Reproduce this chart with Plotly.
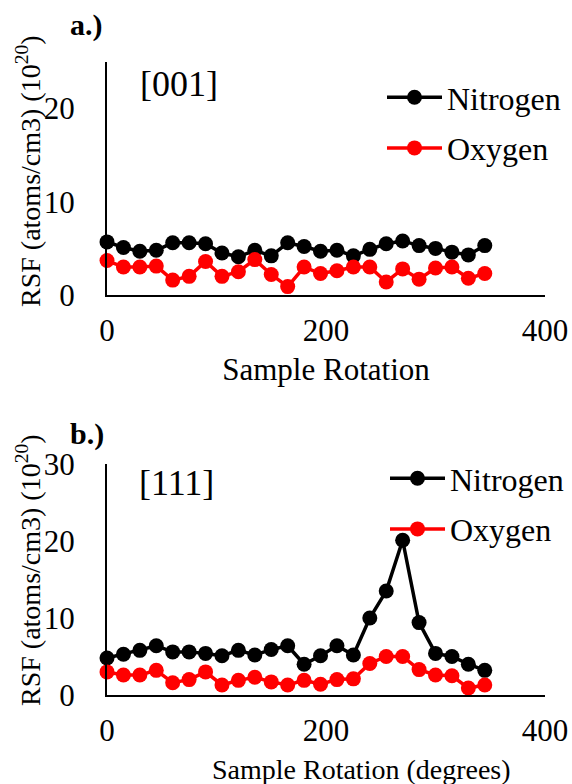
import plotly.graph_objects as go
from plotly.subplots import make_subplots

rotation = [0, 15, 30, 45, 60, 75, 90, 105, 120, 135, 150, 165, 180, 195, 210, 225,
            240, 255, 270, 285, 300, 315, 330, 345]

n_001 = [5.7, 5.1, 4.7, 4.8, 5.6, 5.6, 5.5, 4.5, 4.1, 4.8, 4.2, 5.6, 5.2, 4.7, 4.8, 4.2,
         4.9, 5.5, 5.8, 5.3, 5.0, 4.6, 4.3, 5.3]
o_001 = [3.7, 3.0, 3.0, 3.1, 1.6, 2.0, 3.6, 2.0, 2.5, 3.8, 2.2, 0.9, 3.0, 2.3, 2.6, 3.0,
         3.0, 1.4, 2.8, 1.7, 2.9, 3.0, 1.8, 2.3]

n_111 = [4.8, 5.3, 5.8, 6.4, 5.6, 5.6, 5.4, 5.1, 5.8, 5.2, 5.9, 6.4, 4.0, 5.1, 6.4, 5.2,
         10.0, 13.5, 20.1, 9.4, 5.4, 5.0, 4.0, 3.2]
o_111 = [3.0, 2.6, 2.6, 3.2, 1.6, 2.0, 3.0, 1.3, 1.9, 2.3, 1.7, 1.3, 1.9, 1.4, 2.0, 2.1,
         4.1, 5.0, 5.0, 3.3, 2.6, 2.5, 0.9, 1.3]

FONT = "Liberation Serif"

fig = make_subplots(rows=2, cols=1, vertical_spacing=0.0)

def add(x, y, name, color, row, legend, show=True):
    fig.add_trace(go.Scatter(
        x=x, y=y, name=name, mode="lines+markers",
        line=dict(color=color, width=3.5),
        marker=dict(color=color, size=15),
        cliponaxis=False, legend=legend, legendgroup=name + legend,
        showlegend=show), row=row, col=1)

add(rotation, n_001, "Nitrogen", "#000000", 1, "legend")
add(rotation, o_001, "Oxygen", "#ff0000", 1, "legend")
add(rotation, n_111, "Nitrogen", "#000000", 2, "legend2")
add(rotation, o_111, "Oxygen", "#ff0000", 2, "legend2")

H_TOP = 62
H_BOT = 89
ph = 784 - H_TOP - H_BOT

def py(pix):
    return (784 - H_BOT - pix) / ph

def px(pix):
    return (pix - 107) / 438

axis_common = dict(showgrid=False, zeroline=False, showline=True, linecolor="#000000",
                   linewidth=2, ticks="", automargin=False,
                   tickfont=dict(family=FONT, size=31, color="#000"))

fig.update_xaxes(range=[0, 400], dtick=200, ticklabelstandoff=7,
                 title_font=dict(family=FONT, size=31, color="#000"), **axis_common)
fig.update_yaxes(**axis_common)

fig.update_xaxes(title_text="Sample Rotation", title_standoff=11, row=1, col=1)
fig.update_yaxes(range=[0, 25], dtick=10, ticklabelstandoff=24, row=1, col=1)
fig.update_yaxes(range=[0, 30], dtick=10, ticklabelstandoff=24, row=2, col=1)

fig.update_layout(
    yaxis=dict(domain=[py(295), 1.0]),
    yaxis2=dict(domain=[0.0, py(464)]),
)

legend_common = dict(font=dict(family=FONT, size=32, color="#000"), bgcolor="rgba(0,0,0,0)",
                     itemwidth=55, tracegroupgap=6, xanchor="left", yanchor="top",
                     xref="paper", yref="paper")

def ann(text, x, y, size, bold=False, angle=0):
    return dict(text=f"<b>{text}</b>" if bold else text, x=px(x), y=py(y),
                xref="paper", yref="paper", xanchor="center", yanchor="middle",
                textangle=angle,
                showarrow=False, font=dict(family=FONT, size=size, color="#000"))

ytitle = "RSF (atoms/cm3) (10<sup>20</sup>)"

fig.update_layout(
    width=572, height=784,
    margin=dict(l=107, r=27, t=H_TOP, b=H_BOT, autoexpand=False),
    paper_bgcolor="#ffffff", plot_bgcolor="#ffffff",
    font=dict(family=FONT, size=27, color="#000"),
    legend=dict(x=px(382), y=py(70), **legend_common),
    legend2=dict(x=px(385), y=py(451), **legend_common),
    annotations=[
        ann("a.)", 86, 25, 30, bold=True),
        ann("b.)", 87, 434, 30, bold=True),
        ann("[001]", 179, 84, 36),
        ann("[111]", 176, 483, 36),
        ann("Sample Rotation (degrees)", 361, 769, 28),
        ann(ytitle, 28, 171, 28, angle=-90),
        ann(ytitle, 28, 570, 28, angle=-90),
    ],
)

fig.write_html("out.html", config={"displayModeBar": False},
               post_script="document.body.style.margin='0';")
